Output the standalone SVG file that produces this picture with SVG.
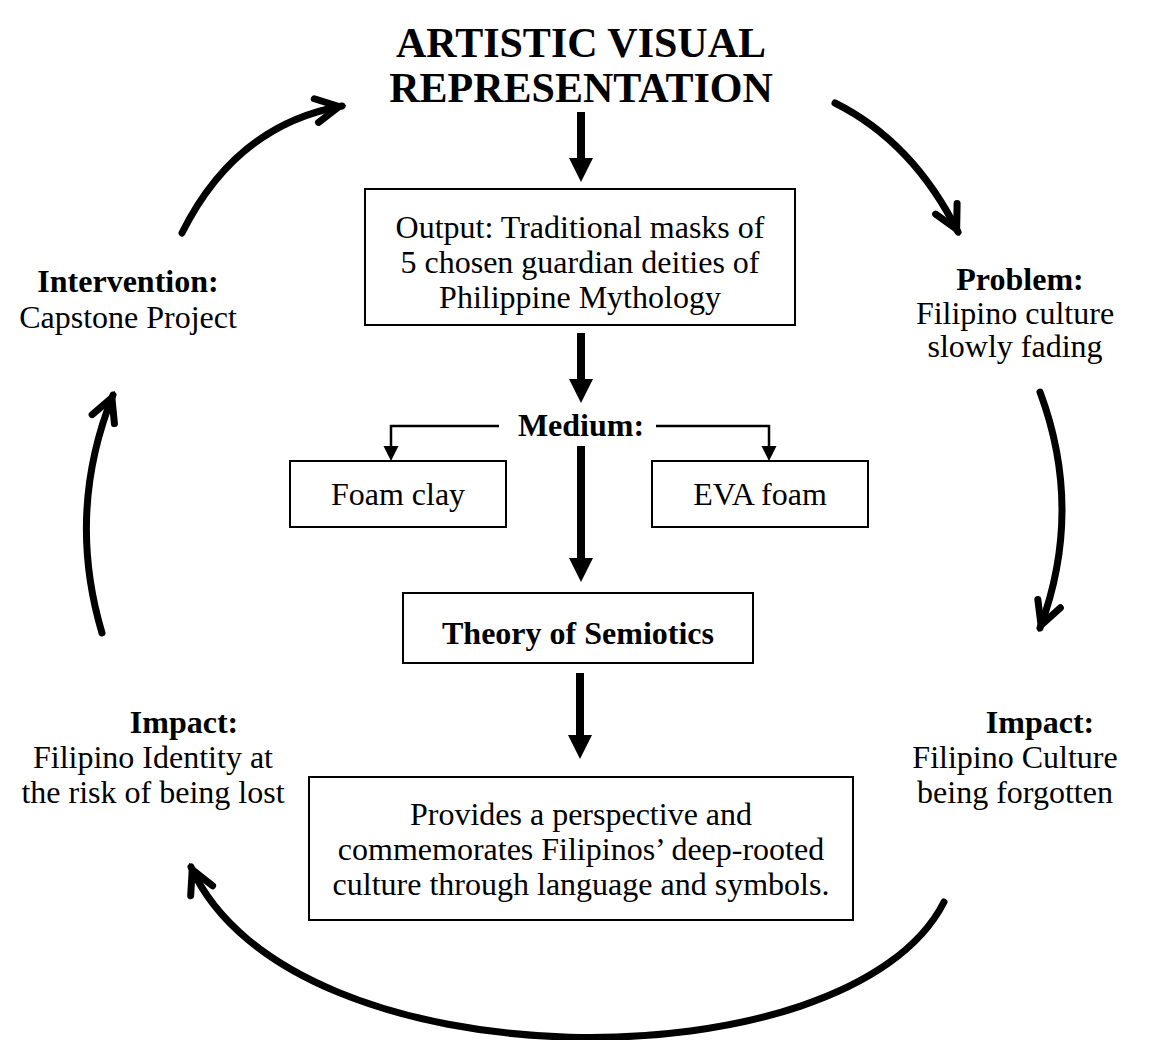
<svg xmlns="http://www.w3.org/2000/svg" width="1149" height="1040" viewBox="0 0 1149 1040">
<defs>
<style>
.box{fill:#fff;stroke:#000;stroke-width:2}
.t{font-family:"Liberation Serif","Times New Roman",serif;font-size:32px;fill:#000;text-anchor:middle}
.b{font-weight:bold}
.title{font-size:42px;font-weight:bold}
.curve{fill:none;stroke:#000;stroke-width:7;stroke-linecap:round;marker-end:url(#chev)}
.thick{fill:none;stroke:#000;stroke-width:8;marker-end:url(#tri)}
.thin{fill:none;stroke:#000;stroke-width:2.5;marker-end:url(#tris)}
</style>
<marker id="chev" markerUnits="userSpaceOnUse" viewBox="-40 -25 50 50" markerWidth="50" markerHeight="50" refX="0" refY="0" orient="auto" overflow="visible">
<path d="M-26,-12 L-3,0 L-26,12" fill="none" stroke="#000" stroke-width="7" stroke-linecap="round" stroke-linejoin="miter"/>
</marker>
<marker id="tri" markerUnits="userSpaceOnUse" viewBox="0 -13 26 26" markerWidth="26" markerHeight="26" refX="0" refY="0" orient="auto" overflow="visible">
<path d="M0,-12 L24,0 L0,12 Z" fill="#000"/>
</marker>
<marker id="tris" markerUnits="userSpaceOnUse" viewBox="0 -8 16 16" markerWidth="16" markerHeight="16" refX="0" refY="0" orient="auto" overflow="visible">
<path d="M0,-7.5 L15,0 L0,7.5 Z" fill="#000"/>
</marker>
</defs>
<rect width="1149" height="1040" fill="#fff"/>

<g id="connectors">
<line class="thick" x1="581" y1="112" x2="581" y2="158"/>
<line class="thick" x1="581" y1="333" x2="581" y2="379"/>
<polyline class="thin" points="499,426 391,426 391,446"/>
<polyline class="thin" points="656,426 769,426 769,446"/>
<line class="thick" x1="581" y1="446" x2="581" y2="558"/>
<line class="thick" x1="580" y1="673" x2="580" y2="735"/>
<path class="curve" d="M182,233 Q236,125 342,106"/>
<path class="curve" d="M835,103 Q913,142 958,232"/>
<path class="curve" d="M1040,392 Q1084,510 1040,628"/>
<path class="curve" d="M944,902 C850,1088 290,1088 191,867"/>
<path class="curve" d="M102,633 Q66,512 113,395"/>
</g>

<g id="title">
<text class="t title" x="581" y="57">ARTISTIC VISUAL</text>
<text class="t title" x="581" y="102">REPRESENTATION</text>
</g>

<g id="output">
<rect class="box" x="365" y="189" width="430" height="136"/>
<text class="t" x="580" y="238">Output: Traditional masks of</text>
<text class="t" x="580" y="273">5 chosen guardian deities of</text>
<text class="t" x="580" y="308">Philippine Mythology</text>
</g>

<g id="medium">
<text class="t b" x="581" y="436">Medium:</text>
</g>

<g id="foam-clay">
<rect class="box" x="290" y="461" width="216" height="66"/>
<text class="t" x="398" y="505">Foam clay</text>
</g>

<g id="eva-foam">
<rect class="box" x="652" y="461" width="216" height="66"/>
<text class="t" x="760" y="505">EVA foam</text>
</g>

<g id="theory">
<rect class="box" x="403" y="593" width="350" height="70"/>
<text class="t b" x="578" y="644">Theory of Semiotics</text>
</g>

<g id="provides">
<rect class="box" x="309" y="777" width="544" height="143"/>
<text class="t" x="581" y="825">Provides a perspective and</text>
<text class="t" x="581" y="860">commemorates Filipinos’ deep-rooted</text>
<text class="t" x="581" y="895">culture through language and symbols.</text>
</g>

<g id="problem">
<text class="t b" x="1020" y="290">Problem:</text>
<text class="t" x="1015" y="324">Filipino culture</text>
<text class="t" x="1015" y="357">slowly fading</text>
</g>

<g id="impact-right">
<text class="t b" x="1040" y="733">Impact:</text>
<text class="t" x="1015" y="768">Filipino Culture</text>
<text class="t" x="1015" y="803">being forgotten</text>
</g>

<g id="impact-left">
<text class="t b" x="184" y="733">Impact:</text>
<text class="t" x="153" y="768">Filipino Identity at</text>
<text class="t" x="153" y="803">the risk of being lost</text>
</g>

<g id="intervention">
<text class="t b" x="128" y="292">Intervention:</text>
<text class="t" x="128" y="328">Capstone Project</text>
</g>
</svg>
